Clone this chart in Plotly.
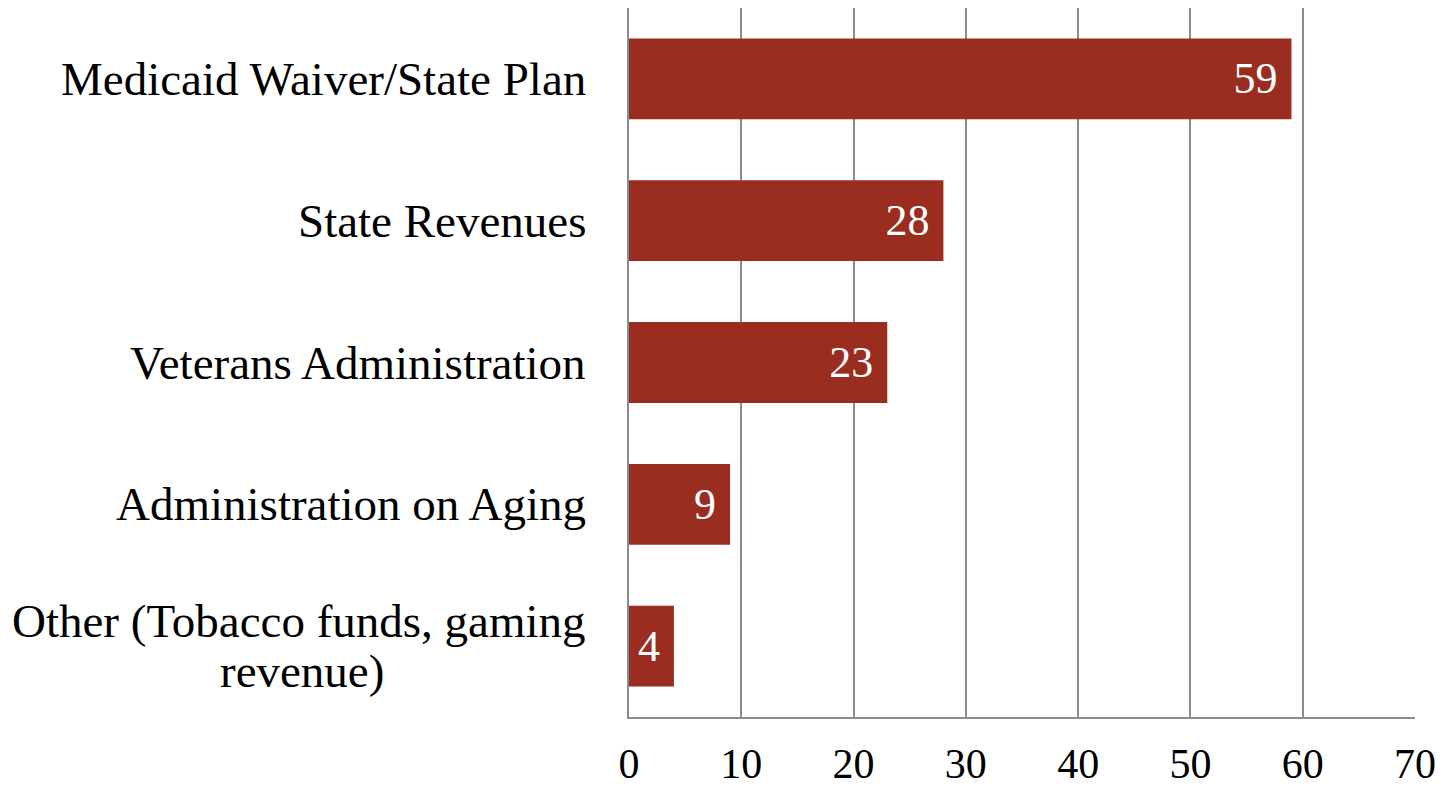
import plotly.graph_objects as go

categories = [
    "Medicaid Waiver/State Plan",
    "State Revenues",
    "Veterans Administration",
    "Administration on Aging",
    "Other (Tobacco funds, gaming<br>revenue)",
]
values = [59, 28, 23, 9, 4]
x_ticks = [0, 10, 20, 30, 40, 50, 60, 70]

FONT = "Liberation Serif"
BAR = "#9A2D20"
GRID = "#8C8C8C"
LABEL_SIZE = 47
TICK_SIZE = 42

fig = go.Figure(
    go.Bar(
        y=categories,
        x=values,
        orientation="h",
        marker=dict(color=BAR, line=dict(width=0)),
        texttemplate="%{x}\u00a0",
        textposition="inside",
        insidetextanchor="end",
        textfont=dict(family=FONT, size=44, color="white"),
        cliponaxis=False,
        hoverinfo="skip",
    )
)

# category labels: centred multi-line text, right edge aligned next to the axis
LABEL_GAP = 41
LINE_STEP = 50
for c in categories:
    lines = c.split("<br>")
    n = len(lines)
    if n == 1:
        fig.add_annotation(
            x=0, xref="paper", y=c, yref="y", text=c, showarrow=False,
            xanchor="right", xshift=-LABEL_GAP,
            font=dict(family=FONT, size=LABEL_SIZE, color="black"),
        )
    else:
        first_w = 573  # approx. pixel width of the widest (first) line
        for i, ln in enumerate(lines):
            ys = ((n - 1) / 2 - i) * LINE_STEP
            if i == 0:
                fig.add_annotation(
                    x=0, xref="paper", y=c, yref="y", text=ln, showarrow=False,
                    xanchor="right", xshift=-LABEL_GAP, yshift=ys,
                    font=dict(family=FONT, size=LABEL_SIZE, color="black"),
                )
            else:
                fig.add_annotation(
                    x=0, xref="paper", y=c, yref="y", text=ln, showarrow=False,
                    xanchor="center", xshift=-LABEL_GAP - first_w / 2, yshift=ys,
                    font=dict(family=FONT, size=LABEL_SIZE, color="black"),
                )

fig.update_layout(
    width=1445, height=792,
    margin=dict(l=629, r=30, t=8, b=75),
    paper_bgcolor="white", plot_bgcolor="white",
    bargap=0.43, showlegend=False,
    font=dict(family=FONT, size=TICK_SIZE, color="black"),
)
fig.update_xaxes(
    range=[0, 70], tickvals=x_ticks, ticktext=[str(t) for t in x_ticks],
    showgrid=True, gridcolor=GRID, gridwidth=2,
    showline=True, linecolor=GRID, linewidth=2,
    zeroline=False, ticks="", ticklabelstandoff=9, automargin=False,
    tickfont=dict(family=FONT, size=TICK_SIZE, color="black"),
)
fig.update_yaxes(
    categoryorder="array", categoryarray=categories[::-1],
    showticklabels=False, showgrid=False, zeroline=False, automargin=False,
    showline=True, linecolor=GRID, linewidth=2,
)

fig.write_html(
    "out.html",
    config={"displayModeBar": False},
    post_script="document.body.style.margin='0';document.body.style.overflow='hidden';",
)
